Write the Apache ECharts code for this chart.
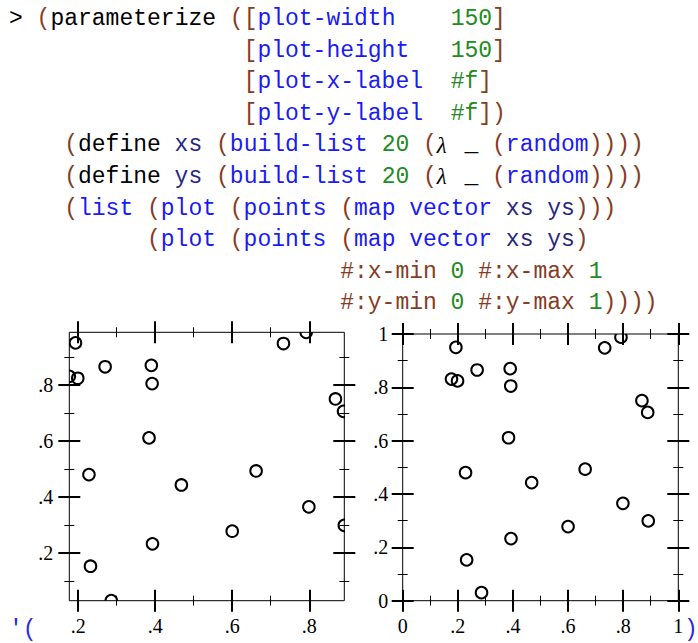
<!DOCTYPE html>
<html><head><meta charset="utf-8">
<script src="https://cdn.jsdelivr.net/npm/echarts@6/dist/echarts.min.js"></script>
<style>html,body{margin:0;padding:0;background:#fff}#c{width:698px;height:643px}</style>
</head><body><div id="c"></div>
<script>
// ---- data ----
const xs = [0.193, 0.177, 0.199, 0.270, 0.390, 0.392, 0.384, 0.733, 0.792, 0.868,
            0.889, 0.228, 0.662, 0.468, 0.799, 0.891, 0.600, 0.393, 0.232, 0.286];
const ys = [0.950, 0.831, 0.824, 0.865, 0.870, 0.805, 0.611, 0.948, 0.988, 0.750,
            0.706, 0.480, 0.493, 0.443, 0.365, 0.299, 0.278, 0.233, 0.153, 0.030];
const leftXMajor = [0.2, 0.4, 0.6, 0.8];
const leftXMinor = [0.3, 0.5, 0.7];
const leftYMajor = [0.2, 0.4, 0.6, 0.8];
const leftYMinor = [0.1, 0.3, 0.5, 0.7, 0.9];
const rightMajor = [0, 0.2, 0.4, 0.6, 0.8, 1];
const rightMinor = [0.1, 0.3, 0.5, 0.7, 0.9];
const tickText = ['0', '.2', '.4', '.6', '.8', '1'];
const rightMin = 0, rightMax = 1;

// code listing tokens: [style, text]
const codeLines = [
 [0,  [['k','>'],['s',' '],['p','('],['k','parameterize'],['s',' '],['p','(['],['b','plot-width'],['s','    '],['g','150'],['p',']']]],
 [17, [['p','['],['b','plot-height'],['s','   '],['g','150'],['p',']']]],
 [17, [['p','['],['b','plot-x-label'],['s','  '],['g','#f'],['p',']']]],
 [17, [['p','['],['b','plot-y-label'],['s','  '],['g','#f'],['p','])']]],
 [4,  [['p','('],['k','define'],['s',' '],['n','xs'],['s',' '],['p','('],['b','build-list'],['s',' '],['g','20'],['s',' '],['p','('],['l','λ'],['s',' '],['k','_'],['s',' '],['p','('],['b','random'],['p','))))']]],
 [4,  [['p','('],['k','define'],['s',' '],['n','ys'],['s',' '],['p','('],['b','build-list'],['s',' '],['g','20'],['s',' '],['p','('],['l','λ'],['s',' '],['k','_'],['s',' '],['p','('],['b','random'],['p','))))']]],
 [4,  [['p','('],['b','list'],['s',' '],['p','('],['b','plot'],['s',' '],['p','('],['b','points'],['s',' '],['p','('],['b','map'],['s',' '],['b','vector'],['s',' '],['n','xs'],['s',' '],['n','ys'],['p',')))']]],
 [10, [['p','('],['b','plot'],['s',' '],['p','('],['b','points'],['s',' '],['p','('],['b','map'],['s',' '],['b','vector'],['s',' '],['n','xs'],['s',' '],['n','ys'],['p',')']]],
 [24, [['p','#:x-min'],['s',' '],['g','0'],['s',' '],['p','#:x-max'],['s',' '],['g','1']]],
 [24, [['p','#:y-min'],['s',' '],['g','0'],['s',' '],['p','#:y-max'],['s',' '],['g','1'],['p','))))']]]
];
const resultOpen = "'(";
const resultClose = ")";

// ---- styling ----
const MONO = 'Liberation Mono', SERIF = 'Liberation Serif';
const FS = 23, CW = 13.8, X0 = 9, Y0 = 19.2, LH = 31.55;
function rs(color, extra) { return Object.assign({fontFamily: MONO, fontSize: FS, fill: color, color: color}, extra || {}); }
const rich = {
  p: rs('#843c24'), k: rs('#000000'), b: rs('#1a1af5'), n: rs('#262680'),
  g: rs('#228b22'), s: rs('#000000'),
  l: rs('#000000', {fontFamily: SERIF, fontStyle: 'italic', width: CW}),
  r: rs('#2a2ae0')
};
function richText(tokens) { return tokens.map(t => '{' + t[0] + '|' + t[1] + '}').join(''); }

const graphic = codeLines.map((ln, i) => ({
  type: 'text', x: X0 + ln[0] * CW, y: Y0 + i * LH, silent: true,
  style: {text: richText(ln[1]), rich: rich, fontFamily: MONO, fontSize: FS, fill: '#000',
          verticalAlign: 'middle', textVerticalAlign: 'middle'}
}));
graphic.push({type: 'text', x: X0, y: 630, silent: true,
  style: {text: resultOpen, fontFamily: MONO, fontSize: FS, fill: '#2a2ae0', verticalAlign: 'middle', textVerticalAlign: 'middle'}});
graphic.push({type: 'text', x: 684, y: 630, silent: true,
  style: {text: resultClose, fontFamily: MONO, fontSize: FS, fill: '#2a2ae0', verticalAlign: 'middle', textVerticalAlign: 'middle'}});

const fmt = v => tickText[Math.round(v * 5)];
function mkAxis(gi, pos, offset, min, max, ticks, len, w, labelVals, margin) {
  return {
    type: 'value', gridIndex: gi, position: pos, offset: offset, min: min, max: max,
    axisLine: {show: false, onZero: false}, splitLine: {show: false},
    minorTick: {show: false}, minorSplitLine: {show: false},
    axisTick: {show: true, customValues: ticks, length: len, lineStyle: {color: '#000', width: w}},
    axisLabel: labelVals ? {show: true, customValues: labelVals, margin: margin, formatter: fmt,
      fontFamily: SERIF, fontSize: 20, color: '#000', showMinLabel: true, showMaxLabel: true}
      : {show: false}
  };
}
const lxMin = Math.min(...xs), lxMax = Math.max(...xs);
const lyMin = Math.min(...ys), lyMax = Math.max(...ys);
const MJ = 11, MN = 5;

const xAxis = [
  mkAxis(0, 'bottom', -MJ, lxMin, lxMax, leftXMajor, 2*MJ, 2, leftXMajor, 26),
  mkAxis(0, 'top', -MJ, lxMin, lxMax, leftXMajor, 2*MJ, 2),
  mkAxis(0, 'bottom', -MN, lxMin, lxMax, leftXMinor, 2*MN, 1),
  mkAxis(0, 'top', -MN, lxMin, lxMax, leftXMinor, 2*MN, 1),
  mkAxis(1, 'bottom', -MJ, rightMin, rightMax, rightMajor, 2*MJ, 2, rightMajor, 26),
  mkAxis(1, 'top', -MJ, rightMin, rightMax, rightMajor, 2*MJ, 2),
  mkAxis(1, 'bottom', -MN, rightMin, rightMax, rightMinor, 2*MN, 1),
  mkAxis(1, 'top', -MN, rightMin, rightMax, rightMinor, 2*MN, 1)
];
const yAxis = [
  mkAxis(0, 'left', -MJ, lyMin, lyMax, leftYMajor, 2*MJ, 2, leftYMajor, 27),
  mkAxis(0, 'right', -MJ, lyMin, lyMax, leftYMajor, 2*MJ, 2),
  mkAxis(0, 'left', -MN, lyMin, lyMax, leftYMinor, 2*MN, 1),
  mkAxis(0, 'right', -MN, lyMin, lyMax, leftYMinor, 2*MN, 1),
  mkAxis(1, 'left', -MJ, rightMin, rightMax, rightMajor, 2*MJ, 2, rightMajor, 25.5),
  mkAxis(1, 'right', -MJ, rightMin, rightMax, rightMajor, 2*MJ, 2),
  mkAxis(1, 'left', -MN, rightMin, rightMax, rightMinor, 2*MN, 1),
  mkAxis(1, 'right', -MN, rightMin, rightMax, rightMinor, 2*MN, 1)
];
const gridBase = {show: true, borderColor: '#000', borderWidth: 1, backgroundColor: 'transparent',
  containLabel: false, outerBoundsMode: 'none'};
const grid = [
  Object.assign({left: 69.3, top: 332.3, width: 275, height: 268.4}, gridBase),
  Object.assign({left: 402.7, top: 334, width: 275.6, height: 266.7}, gridBase)
];
const pts = xs.map((x, i) => [x, ys[i]]);
function circleItem(params, api) {
  const p = api.coord([api.value(0), api.value(1)]);
  return {type: 'circle', shape: {cx: p[0], cy: p[1], r: 5.8},
    style: {fill: 'none', stroke: '#000', lineWidth: 2}};
}
const series = [
  {type: 'custom', xAxisIndex: 0, yAxisIndex: 0, clip: true, data: pts, renderItem: circleItem,
   encode: {x: 0, y: 1}, silent: true, animation: false},
  {type: 'custom', xAxisIndex: 4, yAxisIndex: 4, clip: true, data: pts, renderItem: circleItem,
   encode: {x: 0, y: 1}, silent: true, animation: false}
];

const chart = echarts.init(document.getElementById('c'), null, {renderer: 'svg', width: 698, height: 643});
chart.setOption({
  backgroundColor: '#fff', animation: false,
  grid: grid, xAxis: xAxis, yAxis: yAxis, series: series, graphic: graphic
});
</script></body></html>
